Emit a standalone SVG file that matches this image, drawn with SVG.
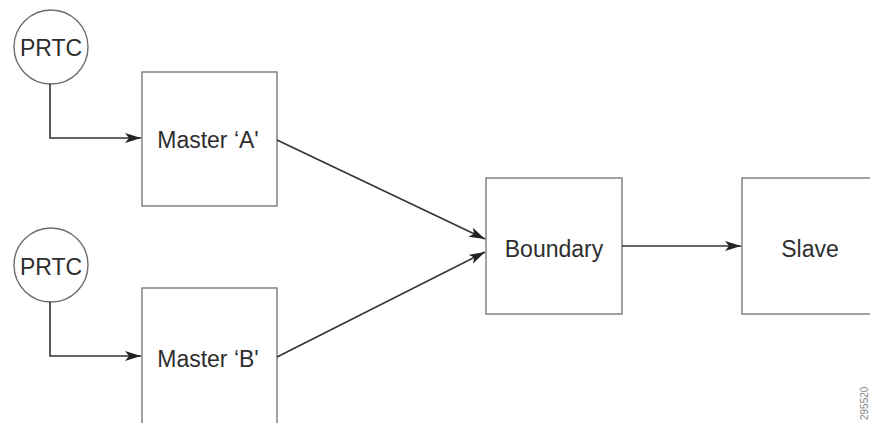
<svg xmlns="http://www.w3.org/2000/svg" width="870" height="423" viewBox="0 0 870 423">
<style>
.box{fill:#fff;stroke:#8a8a8a;stroke-width:1.6}
.circ{fill:#fff;stroke:#6e6e6e;stroke-width:1.4}
.lbl{font-family:"Liberation Sans",Arial,sans-serif;font-size:23px;fill:#2e2e2e;text-anchor:middle}
.con{fill:none;stroke:#333;stroke-width:1.6}
</style>
<defs>
<marker id="ah" viewBox="0 0 16 10" refX="16" refY="5" markerWidth="16" markerHeight="10" markerUnits="userSpaceOnUse" orient="auto">
<path d="M0,0 L16,5 L0,10 L4,5 Z" fill="#222"/>
</marker>
</defs>
<rect width="870" height="423" fill="#fff"/>
<g id="prtc1"><circle class="circ" cx="51" cy="47" r="37"/><text class="lbl" x="51" y="56">PRTC</text></g>
<g id="prtc2"><circle class="circ" cx="51" cy="265" r="37"/><text class="lbl" x="51" y="275">PRTC</text></g>
<g id="masterA"><rect class="box" x="142" y="72" width="135" height="134"/><text class="lbl" x="208" y="148">Master ‘A'</text></g>
<g id="masterB"><rect class="box" x="142" y="288" width="135" height="150"/><text class="lbl" x="208" y="367">Master ‘B'</text></g>
<g id="boundary"><rect class="box" x="486" y="178" width="136" height="136"/><text class="lbl" x="554" y="257">Boundary</text></g>
<g id="slave"><rect class="box" x="742" y="178" width="140" height="136"/><text class="lbl" x="810" y="257">Slave</text></g>
<g id="connectors">
<path class="con" d="M50,84 V138 H141" marker-end="url(#ah)"/>
<path class="con" d="M50,302 V356 H141" marker-end="url(#ah)"/>
<path class="con" d="M277,140 L485,239" marker-end="url(#ah)"/>
<path class="con" d="M277,357 L485,252" marker-end="url(#ah)"/>
<path class="con" d="M622,246 H741" marker-end="url(#ah)"/>
</g>
<text x="868" y="420" transform="rotate(-90 868 420)" font-family="Liberation Sans,sans-serif" font-size="10" fill="#888">295520</text>
</svg>
